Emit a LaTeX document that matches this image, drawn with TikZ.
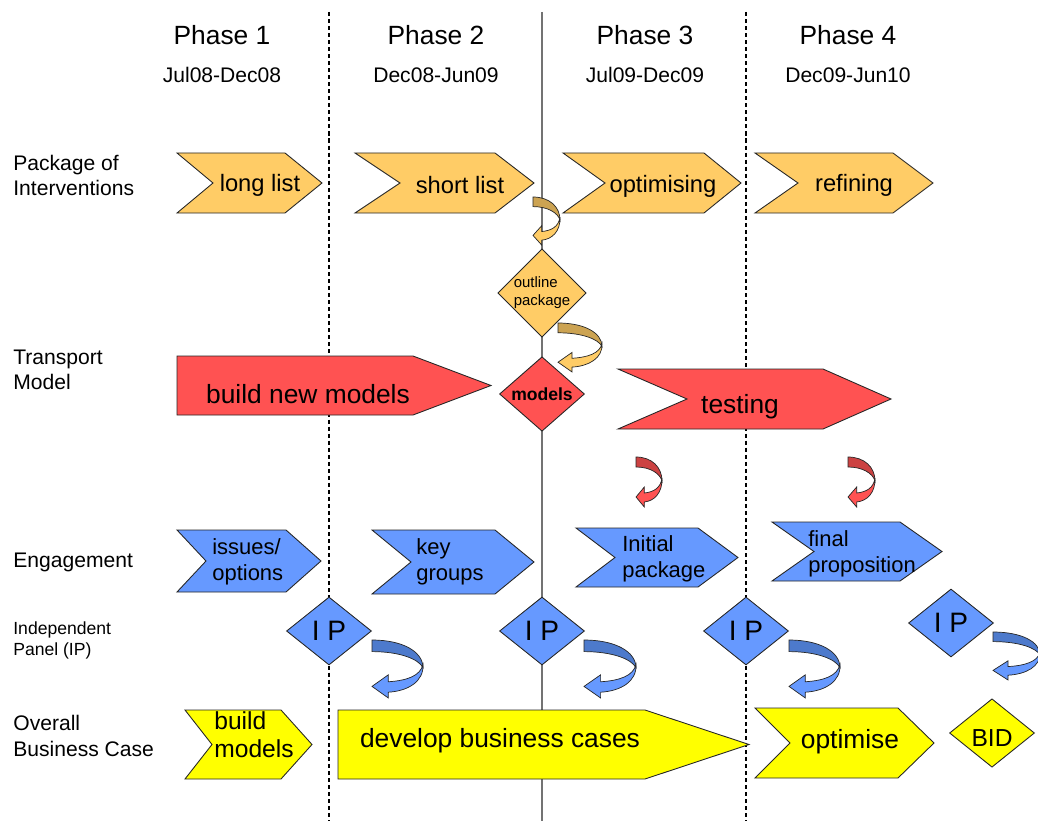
\documentclass[tikz,border=0pt]{standalone}
\usepackage{fontspec}
\setmainfont{Liberation Sans}
\usetikzlibrary{positioning,shapes.geometric}
\definecolor{pkgfill}{RGB}{255,204,102}
\definecolor{pkgdark}{RGB}{204,163,82}
\definecolor{modfill}{RGB}{255,82,82}
\definecolor{moddark}{RGB}{204,66,66}
\definecolor{engfill}{RGB}{102,153,255}
\definecolor{engdark}{RGB}{77,122,204}
\definecolor{bizfill}{RGB}{255,255,0}
\tikzset{phase title/.style={inner sep=0pt,font=\fontsize{15}{18}\selectfont}, }
\tikzset{phase date/.style={inner sep=0pt,font=\fontsize{12}{14}\selectfont}, }
\tikzset{row label/.style={anchor=west,align=left,inner sep=0pt,font=\fontsize{12}{14.2}\selectfont}, }
\tikzset{divider/.style={dash pattern=on 2.3pt off 1.7pt,line width=0.6pt}}
\tikzset{chev/.style={draw=black!85,line width=0.5pt}}
\tikzset{chev text/.style={inner sep=0pt,font=\fontsize{13.5}{16}\selectfont}, }
\tikzset{big text/.style={chev text,font=\fontsize{15}{18}\selectfont}, }
\tikzset{eng text/.style={anchor=west,align=left,inner sep=0pt,font=\fontsize{12.5}{14.7}\selectfont}, }
\tikzset{gate/.style={diamond,draw=black!85,line width=0.5pt,inner sep=0pt,
    minimum width=1.7cm,minimum height=1.36cm}, }
\tikzset{turn/.style={draw=black!85,line width=0.4pt}}

\begin{document}
\begin{tikzpicture}[x=0.02cm,y=-0.02cm]
  \useasboundingbox (0,0) rectangle (1038,821);
  % phase dividers
  \foreach \x in {329,746}
    \draw[divider] (\x,12) -- (\x,821);
  \draw[line width=0.9pt,black!55] (542,12) -- (542,821);
  % headings
  \foreach \n/\x/\d in {1/222/Jul08-Dec08,2/436/Dec08-Jun09,3/645/Jul09-Dec09,4/848/Dec09-Jun10}{
    \node[phase title] (ph\n) at (\x,35) {Phase \n};
    \node[phase date] (dt\n) at (\x,75) {\d};
  }
  % rows
  \node[row label] (lpkg) at (13,175) {Package of\\Interventions};
  \node[row label] (lmod) at (13,370) {Transport\\Model};
  \node[row label] (leng) at (13,562) {Engagement};
  \node[row label,font=\fontsize{10}{12}\selectfont] (lip) at (13,640) {Independent\\Panel (IP)};
  \node[row label,font=\fontsize{12}{14.8}\selectfont] (lbiz) at (13,736) {Overall\\Business Case};
  % chevrons
  \foreach \xl/\xb/\xt/\xn/\yt/\yb/\col in {177/285/322/213/153/213/pkgfill,355/495/534/400/153/213/pkgfill,
      563/704/741/605/153/213/pkgfill,755/893/933/798/153/213/pkgfill,618/823/891/687/369/429/modfill,
      177/286/321/206/530/592/engfill,372/495/534/411/530/594/engfill,576/698/738/615/528/587/engfill,
      772/900/942/814/522/581/engfill,185/281/312/212/710/779/bizfill,755/898/934/790/708/778/bizfill}
    \draw[chev,fill=\col] (\xl,\yt) -- (\xb,\yt) -- (\xt,{(\yt+\yb)/2}) -- (\xb,\yb) -- (\xl,\yb)
      -- (\xn,{(\yt+\yb)/2}) -- cycle;
  \foreach \xl/\xb/\xt/\yt/\yb/\col in {177/413/491/356/415/modfill,338/645/749/710/779/bizfill}
    \draw[chev,fill=\col] (\xl,\yt) -- (\xb,\yt) -- (\xt,{(\yt+\yb)/2}) -- (\xb,\yb) -- (\xl,\yb) -- cycle;
  \node[chev text] (longlist) at (260,185) {long list};
  \node[chev text] (shortlist) at (460,185) {short list};
  \node[chev text] (optimising) at (663,186) {optimising};
  \node[chev text] (refining) at (854,185) {refining};
  \node[big text] (buildnew) at (308,394) {build new models};
  \node[big text] (testing) at (740,407) {testing};
  \node[eng text] (issues) at (212,562) {issues/\\options};
  \node[eng text] (keygroups) at (416,562) {key\\groups};
  \node[eng text] (initial) at (622,559) {Initial\\package};
  \node[eng text] (final) at (808,554) {final\\proposition};
  \node[eng text,font=\fontsize{14}{15.9}\selectfont] (buildmod) at (214,735) {build\\models};
  \node[big text] (develop) at (500,741) {develop business cases};
  \node[big text] (optimise) at (850,742) {optimise};
  % milestones
  \node[gate,fill=pkgfill,align=left,font=\fontsize{8.5}{10.2}\selectfont] (outline) at (542,293) {outline\\package};
  \node[gate,fill=modfill,font=\bfseries\fontsize{10}{12}\selectfont] (models) at (542,394) {models};
  \foreach \i/\x/\y in {1/329/631,2/542/631,3/746/631,4/951/623}
    \node[gate,fill=engfill,font=\fontsize{16}{19}\selectfont] (ip\i) at (\x,\y) {I P};
  \node[gate,fill=bizfill,font=\fontsize{14}{17}\selectfont,text height=15.6pt,text depth=0pt] (bid) at (992,733) {BID};
  % turn arrows
  \foreach \px/\py/\w/\h/\lt/\dk in {533/197/27/48/pkgfill/pkgdark,558/323/44/49/pkgfill/pkgdark,
      636/457/26/50/modfill/moddark,848/457/27/50/modfill/moddark,372/640/51/58/engfill/engdark,
      584/640/52/58/engfill/engdark,789/640/51/58/engfill/engdark,993/632/47/48/engfill/engdark}{
    \begin{scope}[shift={(\px,\py)},xscale=\w,yscale=\h]
      \draw[turn,fill=\dk] (0,0) .. controls (0.6,0) and (1,0.2) .. (1,0.48)
        .. controls (0.92,0.33) and (0.55,0.2) .. (0,0.2) -- cycle;
      \draw[turn,fill=\lt] (1,0.42) .. controls (1.02,0.72) and (0.7,0.88) .. (0.32,0.9) -- (0.32,1)
        -- (0,0.8) -- (0.32,0.6) -- (0.32,0.72) .. controls (0.68,0.7) and (0.95,0.62) .. (1,0.42) -- cycle;
    \end{scope}
  }
\end{tikzpicture}
\end{document}
